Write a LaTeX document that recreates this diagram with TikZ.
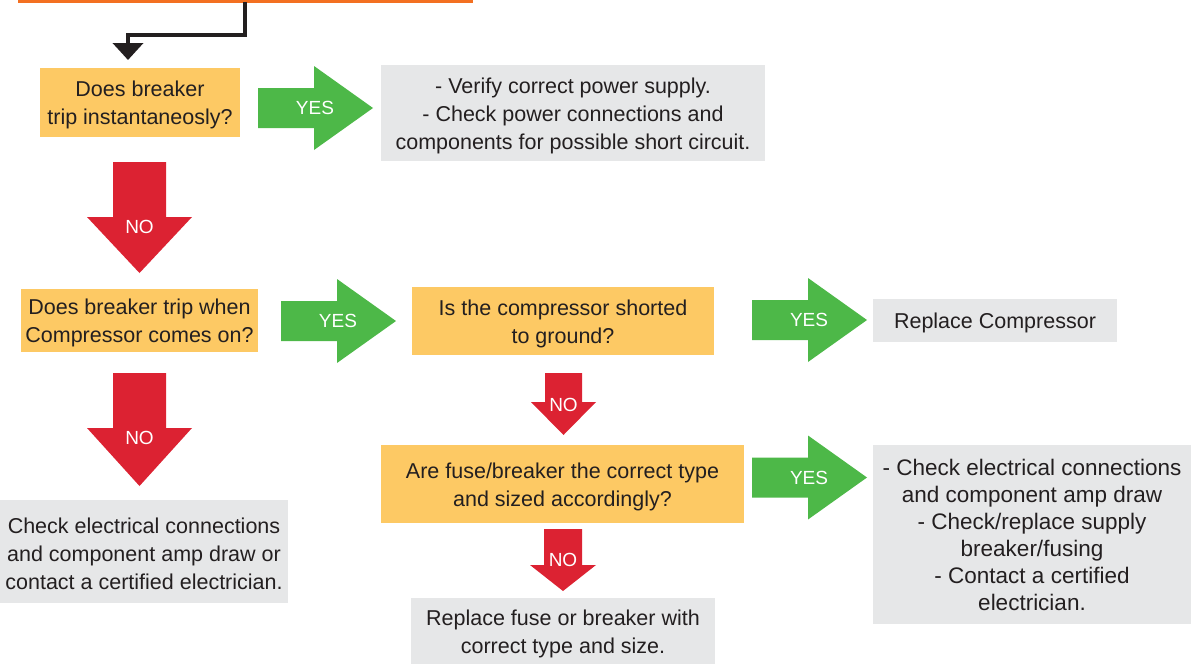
\documentclass[tikz,border=0pt]{standalone}
\usepackage{fontspec}
\setmainfont{Liberation Sans}
\usetikzlibrary{arrows.meta}
\definecolor{qorange}{HTML}{FDC964}
\definecolor{agray}{HTML}{E6E7E8}
\definecolor{ygreen}{HTML}{4DB848}
\definecolor{nred}{HTML}{DC2232}
\definecolor{txt}{HTML}{231F20}
\definecolor{topor}{HTML}{F37021}
\newcommand\dnstrut{\rule{0pt}{21pt}}
\begin{document}
\begin{tikzpicture}[x=1pt,y=-1pt,
 box/.style={inner sep=0pt, align=center, font=\fontsize{21.5}{28}\selectfont, text=txt},
 qbox/.style={box, fill=qorange},
 abox/.style={box, fill=agray},
 onebox/.style={box, fill=agray, execute at begin node={\rule{0pt}{21pt}}},
 bigbox/.style={box, fill=agray, font=\fontsize{22.5}{27}\selectfont},
 yesarr/.style={fill=ygreen},
 noarr/.style={fill=nred},
 lbl/.style={text=white, font=\fontsize{19}{19}\selectfont, inner sep=0pt},
 conn/.style={line width=4pt, draw=txt, -{Triangle[width=30pt,length=17pt]}},
 yespic/.pic={
   \fill[yesarr] (0,-20) -- (56,-20) -- (56,-42) -- (115,0) -- (56,42) -- (56,20) -- (0,20) -- cycle;
   \node[lbl] (-lbl) at (57,0) {YES};
 }
]
\useasboundingbox (0,0) rectangle (1191,664);
% top bar
\fill[topor] (18,-3) rectangle (473,3);
\coordinate (topend) at (245,2);
\coordinate (t1) at (128,60);
\draw[conn] (topend) |- (128,35) -- (t1);

% boxes
\node[qbox, minimum width=200pt, minimum height=69pt] (q1) at (140,102.5) {\dnstrut Does breaker\\trip instantaneosly?};
\node[abox, minimum width=384pt, minimum height=96pt] (a1) at (573,113) {\dnstrut - Verify correct power supply.\\- Check power connections and\\components for possible short circuit.};
\node[qbox, minimum width=237pt, minimum height=63pt] (q2) at (139.5,320.5) {\dnstrut Does breaker trip when\\Compressor comes on?};
\node[qbox, minimum width=302pt, minimum height=68pt] (q3) at (563,321) {\dnstrut Is the compressor shorted\\to ground?};
\node[onebox, minimum width=244pt, minimum height=43pt] (a3) at (995,320.5) {Replace Compressor};
\node[abox, minimum width=288pt, minimum height=103pt] (a2) at (144,551.5) {\dnstrut Check electrical connections\\and component amp draw or\\contact a certified electrician.};
\node[qbox, minimum width=363pt, minimum height=78pt] (q4) at (562.5,484) {\dnstrut Are fuse/breaker the correct type\\and sized accordingly?};
\node[bigbox, minimum width=318pt, minimum height=179pt] (a4) at (1032,534.5) {- Check electrical connections\\and component amp draw\\- Check/replace supply\\breaker/fusing\\- Contact a certified\\electrician.};
\node[abox, minimum width=304pt, minimum height=66pt] (a5) at (563,631) {\dnstrut Replace fuse or breaker with\\correct type and size.};

% YES arrows
\pic (y1) at (258,108) {yespic};
\pic (y2) at (281,321) {yespic};
\pic (y3) at (752,320) {yespic};
\pic (y4) at (752,477.5) {yespic};

% NO arrows
\fill[noarr] (113,162) -- (166,162) -- (166,217) -- (192,217) -- (139.5,273) -- (87,217) -- (113,217) -- cycle;
\node[lbl] (n1) at (139.5,227) {NO};
\fill[noarr] (113,373) -- (166,373) -- (166,428) -- (192,428) -- (139.5,486) -- (87,428) -- (113,428) -- cycle;
\node[lbl] (n2) at (139.5,438) {NO};
\fill[noarr] (545,373) -- (582,373) -- (582,402) -- (596,402) -- (563.5,435) -- (531,402) -- (545,402) -- cycle;
\node[lbl] (n3) at (563.5,405) {NO};
\fill[noarr] (544,529) -- (582,529) -- (582,565) -- (596,565) -- (563,591) -- (530,565) -- (544,565) -- cycle;
\node[lbl] (n4) at (563,560) {NO};
\end{tikzpicture}
\end{document}
